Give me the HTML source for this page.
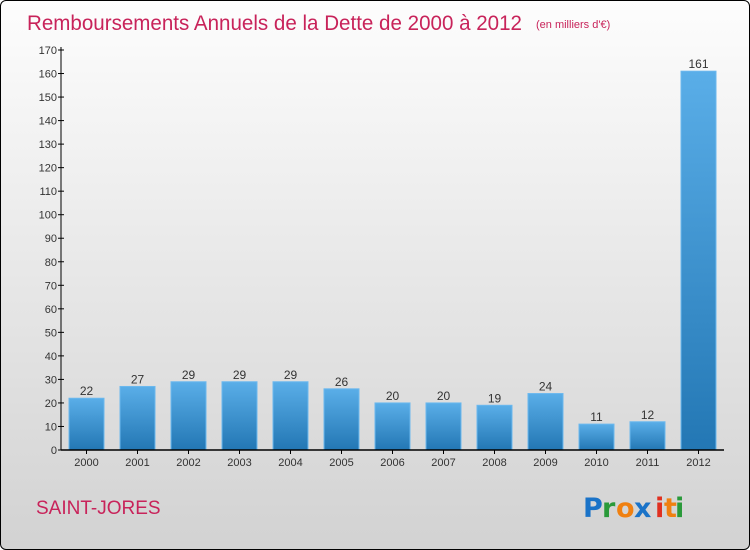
<!DOCTYPE html>
<html><head><meta charset="utf-8"><style>
body{margin:0;width:750px;height:550px;overflow:hidden;font-family:"Liberation Sans",sans-serif}
#wrap{position:absolute;left:0;top:0;width:748px;height:548px;border:1px solid #000;border-radius:6px;background:linear-gradient(#fdfdfd,#d2d2d2)}
</style></head><body>
<div id="wrap"></div>
<svg width="750" height="550" style="position:absolute;left:0;top:0">
<defs><linearGradient id="bg" x1="0" y1="0" x2="0" y2="1"><stop offset="0" stop-color="#5aaee8"/><stop offset="1" stop-color="#2377b4"/></linearGradient></defs>
<text x="27" y="30" font-size="21" fill="#c8235a" textLength="495" lengthAdjust="spacingAndGlyphs">Remboursements Annuels de la Dette de 2000 à 2012</text>
<text x="536" y="28" font-size="11" fill="#c8235a">(en milliers d'€)</text>
<g id="yaxis"></g>
<g id="bars"></g>
<g id="xaxis"></g>
<text x="36" y="514" font-size="19" fill="#c8235a">SAINT-JORES</text>
<g font-size="27" font-weight="bold" font-family="'DejaVu Sans',sans-serif">
<text x="583" y="517" fill="#1a73c8">P</text><text x="602" y="517" fill="#2a9a3a">r</text><text x="616" y="517" fill="#f08010">o</text><text x="634" y="517" fill="#1a73c8">x</text><text x="655" y="517" fill="#e03020">i</text><text x="664" y="517" fill="#f08010">t</text><text x="675" y="517" fill="#2a9a3a">i</text></g>
</svg>
<script>
const years=["2000","2001","2002","2003","2004","2005","2006","2007","2008","2009","2010","2011","2012"];
const values=[22,27,29,29,29,26,20,20,19,24,11,12,161];
const yTicks=[0,10,20,30,40,50,60,70,80,90,100,110,120,130,140,150,160,170];
const NS="http://www.w3.org/2000/svg";
const x0=61,x1=724,y0=450,yMax=170,pxTop=50;
const sy=v=>y0-(v/yMax)*(y0-pxTop);
const slot=(x1-x0)/years.length;
const sx=i=>x0+slot*(i+0.5);
function mk(t,a,p){const e=document.createElementNS(NS,t);for(const k in a)e.setAttribute(k,a[k]);p.appendChild(e);return e;}
const ya=document.getElementById('yaxis'),xa=document.getElementById('xaxis'),bg=document.getElementById('bars');
const yl=mk('line',{x1:x0,y1:y0,x2:x0,y2:pxTop-3,stroke:'#000'},ya);


yTicks.forEach(v=>{
 const t=mk('line',{x1:x0-3,x2:x0+3,y1:sy(v),y2:sy(v),stroke:'#000'},ya);
 
 
 const l=mk('text',{x:x0-4,y:sy(v)+4,'font-size':11,'text-anchor':'end',fill:'#333'},ya);
 l.textContent=v;
 
 
});
const xl=mk('line',{x1:x0,y1:y0,x2:x1,y2:y0,stroke:'#000','stroke-width':1.5},xa);


years.forEach((y,i)=>{
 const c=sx(i),v=values[i],w=35;
 const r=mk('rect',{x:c-w/2,y:sy(v),width:w,height:y0-sy(v),fill:'url(#bg)',stroke:'#6bb8ee','stroke-width':1},bg);
 
 
 const vl=mk('text',{x:c,y:sy(v)-3,'font-size':12,'text-anchor':'middle',fill:'#333'},bg);
 vl.textContent=v;
 
 
 const t=mk('line',{x1:c,x2:c,y1:y0,y2:y0+4,stroke:'#000'},xa);
 
 
 const l=mk('text',{x:c,y:y0+16,'font-size':11,'text-anchor':'middle',fill:'#333'},xa);
 l.textContent=y;
 
 
});
</script>
</body></html>
